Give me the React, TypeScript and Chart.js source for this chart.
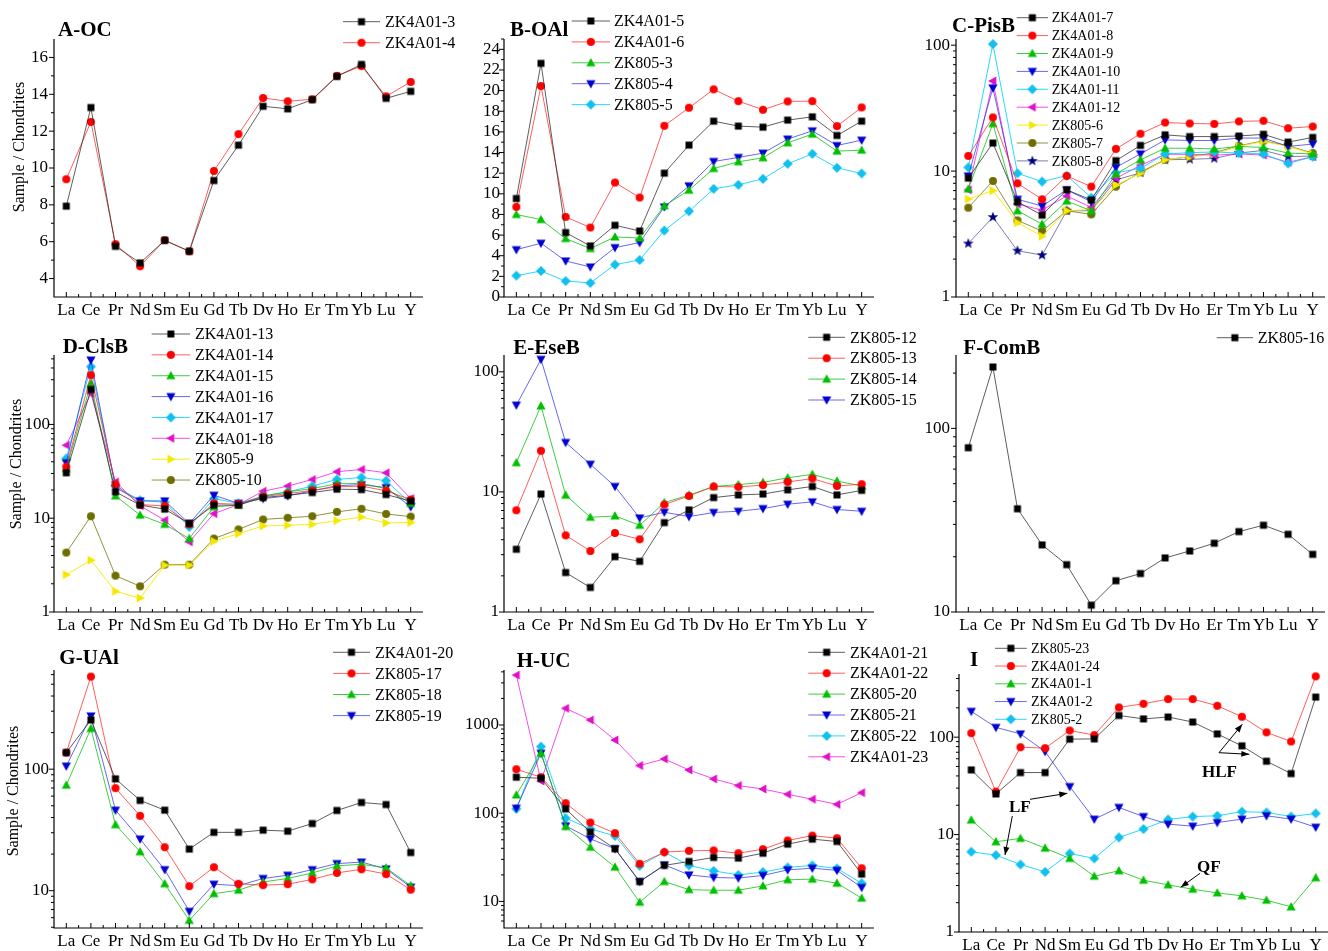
import React, { useEffect, useRef } from 'react';
import { Chart, registerables } from 'chart.js';

Chart.register(...registerables);

const FONT = '"Liberation Serif", "Times New Roman", serif';
const W = 1328;
const H = 951;

const elements = ['La', 'Ce', 'Pr', 'Nd', 'Sm', 'Eu', 'Gd', 'Tb', 'Dy', 'Ho', 'Er', 'Tm', 'Yb', 'Lu', 'Y'];

// ---- A-OC
const zk4a01_3 = [7.93, 13.28, 5.75, 4.85, 6.07, 5.48, 9.32, 11.24, 13.35, 13.21, 13.71, 14.97, 15.62, 13.78, 14.16];
const zk4a01_4 = [9.39, 12.5, 5.87, 4.67, 6.09, 5.48, 9.84, 11.84, 13.8, 13.62, 13.73, 15.0, 15.53, 13.89, 14.67];
// ---- B-OAl
const zk4a01_5 = [9.54, 22.64, 6.24, 4.95, 6.95, 6.4, 12.0, 14.72, 17.04, 16.56, 16.46, 17.14, 17.46, 15.65, 17.04];
const zk4a01_6 = [8.73, 20.44, 7.76, 6.73, 11.09, 9.64, 16.59, 18.34, 20.12, 18.98, 18.14, 18.95, 18.98, 16.56, 18.37];
const zk805_3 = [7.99, 7.5, 5.66, 4.69, 5.82, 5.72, 8.83, 10.35, 12.45, 13.1, 13.49, 14.94, 15.78, 14.13, 14.23];
const zk805_4 = [4.59, 5.21, 3.49, 2.91, 4.79, 5.27, 8.73, 10.77, 13.13, 13.52, 13.94, 15.3, 16.1, 14.68, 15.2];
const zk805_5 = [2.07, 2.52, 1.55, 1.36, 3.14, 3.59, 6.44, 8.31, 10.48, 10.87, 11.45, 12.9, 13.87, 12.52, 11.97];
// ---- C-PisB
const zk4a01_7 = [8.8, 16.7, 5.7, 4.47, 7.1, 5.9, 12.1, 16.0, 19.4, 18.8, 18.8, 19.0, 19.6, 17.0, 18.5];
const zk4a01_8 = [13.2, 26.7, 8.0, 5.97, 9.15, 7.52, 15.0, 19.8, 24.3, 23.9, 23.7, 24.8, 25.1, 21.9, 22.6];
const zk4a01_9 = [7.2, 23.8, 4.84, 3.79, 5.78, 4.84, 9.5, 12.3, 15.2, 15.2, 15.0, 15.7, 15.4, 13.9, 13.7];
const zk4a01_10 = [9.15, 45.7, 5.97, 5.28, 7.1, 5.7, 10.7, 13.7, 17.7, 17.5, 17.5, 18.3, 18.3, 15.7, 16.4];
const zk4a01_11 = [10.7, 102, 9.6, 8.25, 9.2, 6.15, 9.7, 10.5, 13.7, 14.0, 14.2, 13.9, 13.7, 11.5, 13.0];
const zk4a01_12 = [7.1, 52, 5.47, 4.9, 6.34, 5.15, 8.77, 11.1, 13.6, 13.6, 13.4, 13.7, 13.4, 11.75, 13.0];
const zk805_6 = [6.0, 7.0, 3.89, 3.04, 4.84, 4.96, 7.76, 9.6, 12.3, 13.0, 13.7, 15.7, 17.2, 15.7, 13.7];
const zk805_7 = [5.12, 8.35, 4.06, 3.34, 4.84, 4.53, 7.52, 9.8, 12.3, 13.0, 14.0, 15.9, 17.4, 15.9, 13.9];
const zk805_8 = [2.66, 4.31, 2.33, 2.15, 4.84, 4.84, 8.5, 9.7, 12.3, 12.4, 12.6, 13.9, 14.6, 13.0, 13.2];
// ---- D-ClsB
const zk4a01_13 = [30.5, 236, 19.1, 13.8, 12.5, 8.8, 13.8, 13.8, 16.6, 17.6, 18.8, 20.4, 20.2, 17.9, 15.2];
const zk4a01_14 = [35.3, 336, 22.9, 14.0, 13.5, 8.6, 14.4, 14.1, 17.0, 18.3, 19.8, 21.6, 22.0, 19.6, 15.8];
const zk4a01_15 = [33.9, 274, 17.3, 10.8, 8.6, 6.07, 13.2, 13.8, 17.3, 19.1, 20.7, 23.3, 23.5, 20.7, 14.4];
const zk4a01_16 = [39, 486, 21.1, 15.3, 15.3, 8.8, 17.6, 14.4, 16.2, 17.3, 19.6, 22.2, 22.8, 21.2, 13.2];
const zk4a01_17 = [43.4, 413, 21.9, 15.5, 14.8, 8.07, 16.2, 14.4, 17.2, 19.1, 22.0, 25.9, 27.2, 25.1, 14.4];
const zk4a01_18 = [60, 214, 24.4, 13.6, 9.5, 5.6, 11.2, 14.0, 19.4, 22.0, 25.9, 31.3, 33.1, 30.5, 16.2];
const zk805_9 = [2.5, 3.57, 1.66, 1.41, 3.15, 3.15, 5.68, 6.85, 8.28, 8.4, 8.6, 9.44, 10.3, 8.9, 9.0];
const zk805_10 = [4.3, 10.5, 2.44, 1.88, 3.2, 3.2, 6.07, 7.6, 9.7, 10.1, 10.5, 11.7, 12.6, 11.1, 10.4];
// ---- E-EseB
const zk805_12 = [3.33, 9.6, 2.13, 1.6, 2.89, 2.64, 5.55, 7.08, 8.97, 9.44, 9.6, 10.4, 11.1, 9.44, 10.3];
const zk805_13 = [7.03, 22, 4.35, 3.22, 4.55, 4.03, 7.84, 9.26, 11.1, 11.0, 11.4, 12.1, 12.9, 11.2, 11.6];
const zk805_14 = [17.5, 52, 9.4, 6.15, 6.3, 5.27, 8.15, 9.4, 11.1, 11.5, 12.0, 13.1, 14.0, 12.3, 11.2];
const zk805_15 = [52.8, 127, 25.8, 17, 11.1, 6.07, 6.77, 6.23, 6.74, 6.9, 7.26, 7.9, 8.26, 7.13, 6.9];
// ---- F-ComB
const zk805_16 = [78.5, 216, 36.5, 23.2, 18.1, 10.9, 14.8, 16.2, 19.7, 21.5, 23.7, 27.4, 29.7, 26.5, 20.6];
// ---- G-UAl
const zk4a01_20 = [137, 254, 83.3, 55.3, 46, 22, 30.2, 30.2, 31.5, 30.9, 35.7, 45.7, 53.2, 51.2, 20.6];
const zk805_17 = [137, 578, 69.8, 41.3, 22.8, 10.9, 15.6, 11.4, 11.1, 11.3, 12.4, 14.0, 15.0, 13.7, 10.2];
const zk805_18 = [73.9, 216, 34.9, 20.9, 11.4, 5.7, 9.45, 10.1, 11.8, 12.6, 14.0, 16.0, 16.5, 15.4, 11.0];
const zk805_19 = [106, 274, 46, 26.6, 14.9, 6.76, 11.3, 11.0, 12.6, 13.4, 14.9, 16.7, 17.2, 15.1, 10.7];
// ---- H-UC
const zk4a01_21 = [256, 249, 112, 61, 39.5, 16.8, 25.6, 28.4, 31.5, 31, 35.2, 44.6, 50.8, 47.8, 20.4];
const zk4a01_22 = [315, 256, 130, 78.4, 59.4, 26.7, 36.2, 37.5, 37.8, 35.2, 39.1, 49.1, 55.8, 52.1, 23.8];
const zk805_20 = [161, 478, 70.6, 41.2, 24.5, 9.8, 16.8, 13.6, 13.4, 13.4, 15.0, 17.6, 17.9, 16.1, 10.9];
const zk805_21 = [114, 478, 72, 51.2, 39.5, 16.8, 26, 20, 18.7, 18.4, 19.7, 22.8, 23.8, 22.5, 14.4];
const zk805_22 = [112, 569, 87.8, 66.5, 55.4, 25.3, 36.2, 25.6, 22.2, 20, 21.5, 24.3, 25.6, 23.6, 16.1];
const zk4a01_23 = [3680, 232, 1545, 1140, 676, 347, 412, 309, 245, 206, 188, 164, 144, 126, 171];
// ---- I
const zk805_23 = [46.1, 26.1, 43.3, 43.3, 95.4, 96, 167, 154, 161, 143, 108, 81.4, 56.6, 42.3, 258];
const zk4a01_24 = [110, 27.6, 78.9, 77.1, 117, 105, 202, 220, 246, 246, 210, 162, 112, 90.2, 421];
const zk4a01_1 = [14.1, 8.44, 9.14, 7.26, 5.69, 3.74, 4.25, 3.4, 3.05, 2.75, 2.52, 2.35, 2.12, 1.81, 3.6];
const zk4a01_2 = [184, 126, 108, 71.2, 31.1, 14.4, 19.0, 15.3, 12.8, 12.2, 13.3, 14.4, 15.6, 14.4, 11.9];
const zk805_2 = [6.66, 6.15, 4.93, 4.14, 6.4, 5.69, 9.35, 11.4, 14.3, 15.3, 15.6, 17.2, 16.9, 15.3, 16.5];

// tick label values
const linTicksA = [4, 6, 8, 10, 12, 14, 16];
const linMinorA = [5, 7, 9, 11, 13, 15];
const linTicksB = [0, 2, 4, 6, 8, 10, 12, 14, 16, 18, 20, 22, 24];
const linMinorB = [1, 3, 5, 7, 9, 11, 13, 15, 17, 19, 21, 23, 25];
const logTicks1 = [1, 10, 100];
const logTicks10 = [10, 100];
const logTicksH = [10, 100, 1000];

const STYLES = [
  { shape: 'square', color: '#000000', line: 'rgba(40,40,40,0.75)' },
  { shape: 'circle', color: '#ff0000', line: 'rgba(255,40,40,0.75)' },
  { shape: 'up', color: '#00c000', line: 'rgba(0,190,0,0.75)' },
  { shape: 'down', color: '#0000d0', line: 'rgba(40,40,230,0.7)' },
  { shape: 'diamond', color: '#12c0ee', line: 'rgba(0,210,255,0.85)' },
  { shape: 'left', color: '#e010c8', line: 'rgba(240,0,230,0.7)' },
  { shape: 'right', color: '#f4e800', line: 'rgba(245,235,0,0.9)' },
  { shape: 'circle', color: '#6e6e00', line: 'rgba(110,110,0,0.75)' },
  { shape: 'star', color: '#000080', line: 'rgba(70,70,140,0.7)' },
];

function logMinor(min: number, max: number): number[] {
  const out: number[] = [];
  for (let k = -1; k <= 4; k++) {
    for (let m = 2; m <= 9; m++) {
      const v = m * Math.pow(10, k);
      if (v > min && v < max) out.push(v);
    }
  }
  return out;
}

type Series = { name: string; data: number[]; style: number };
type Panel = {
  title: string; tx: number; ty: number;
  area: { l: number; r: number; t: number; b: number };
  log: boolean; min: number; max: number; major: number[]; minor: number[]; tickPad: number;
  series: Series[];
  legend: { x1: number; x2: number; tx: number; y0: number; dy: number; size: number };
  ylabel?: { x: number; y: number };
  notes?: boolean;
};

const PANELS: Panel[] = [
  {
    title: 'A-OC', tx: 58, ty: 36, area: { l: 54, r: 423, t: 39, b: 297 },
    log: false, min: 3, max: 17, major: linTicksA, minor: linMinorA, tickPad: 6,
    series: [{ name: 'ZK4A01-3', data: zk4a01_3, style: 0 }, { name: 'ZK4A01-4', data: zk4a01_4, style: 1 }],
    legend: { x1: 343, x2: 380, tx: 385, y0: 21.7, dy: 21, size: 16 },
    ylabel: { x: 20, y: 147 },
  },
  {
    title: 'B-OAl', tx: 510, ty: 35.7, area: { l: 504, r: 874, t: 39, b: 297 },
    log: false, min: 0, max: 25, major: linTicksB, minor: linMinorB, tickPad: 4,
    series: [
      { name: 'ZK4A01-5', data: zk4a01_5, style: 0 }, { name: 'ZK4A01-6', data: zk4a01_6, style: 1 },
      { name: 'ZK805-3', data: zk805_3, style: 2 }, { name: 'ZK805-4', data: zk805_4, style: 3 },
      { name: 'ZK805-5', data: zk805_5, style: 4 },
    ],
    legend: { x1: 571.7, x2: 610, tx: 614, y0: 21, dy: 20.9, size: 16 },
  },
  {
    title: 'C-PisB', tx: 952, ty: 32.3, area: { l: 956, r: 1325, t: 39, b: 297 },
    log: true, min: 1, max: 112, major: logTicks1, minor: logMinor(1, 112), tickPad: 6,
    series: [
      { name: 'ZK4A01-7', data: zk4a01_7, style: 0 }, { name: 'ZK4A01-8', data: zk4a01_8, style: 1 },
      { name: 'ZK4A01-9', data: zk4a01_9, style: 2 }, { name: 'ZK4A01-10', data: zk4a01_10, style: 3 },
      { name: 'ZK4A01-11', data: zk4a01_11, style: 4 }, { name: 'ZK4A01-12', data: zk4a01_12, style: 5 },
      { name: 'ZK805-6', data: zk805_6, style: 6 }, { name: 'ZK805-7', data: zk805_7, style: 7 },
      { name: 'ZK805-8', data: zk805_8, style: 8 },
    ],
    legend: { x1: 1016.7, x2: 1048, tx: 1051.7, y0: 17.7, dy: 17.9, size: 14 },
  },
  {
    title: 'D-ClsB', tx: 62.7, ty: 353.3, area: { l: 54, r: 423, t: 355, b: 612 },
    log: true, min: 1, max: 550, major: logTicks1, minor: logMinor(1, 550), tickPad: 4,
    series: [
      { name: 'ZK4A01-13', data: zk4a01_13, style: 0 }, { name: 'ZK4A01-14', data: zk4a01_14, style: 1 },
      { name: 'ZK4A01-15', data: zk4a01_15, style: 2 }, { name: 'ZK4A01-16', data: zk4a01_16, style: 3 },
      { name: 'ZK4A01-17', data: zk4a01_17, style: 4 }, { name: 'ZK4A01-18', data: zk4a01_18, style: 5 },
      { name: 'ZK805-9', data: zk805_9, style: 6 }, { name: 'ZK805-10', data: zk805_10, style: 7 },
    ],
    legend: { x1: 151.7, x2: 190, tx: 195, y0: 334, dy: 20.86, size: 16 },
    ylabel: { x: 17, y: 464 },
  },
  {
    title: 'E-EseB', tx: 513.3, ty: 354, area: { l: 504, r: 874, t: 355, b: 612 },
    log: true, min: 1, max: 138, major: logTicks1, minor: logMinor(1, 138), tickPad: 5,
    series: [
      { name: 'ZK805-12', data: zk805_12, style: 0 }, { name: 'ZK805-13', data: zk805_13, style: 1 },
      { name: 'ZK805-14', data: zk805_14, style: 2 }, { name: 'ZK805-15', data: zk805_15, style: 3 },
    ],
    legend: { x1: 808.3, x2: 845, tx: 850, y0: 337.3, dy: 20.9, size: 16 },
  },
  {
    title: 'F-ComB', tx: 963.3, ty: 354, area: { l: 956, r: 1325, t: 355, b: 612 },
    log: true, min: 10, max: 251, major: logTicks10, minor: logMinor(10, 251), tickPad: 6,
    series: [{ name: 'ZK805-16', data: zk805_16, style: 0 }],
    legend: { x1: 1216.7, x2: 1253, tx: 1257.7, y0: 337.7, dy: 21, size: 16 },
  },
  {
    title: 'G-UAl', tx: 59.3, ty: 664.3, area: { l: 54, r: 423, t: 670, b: 928 },
    log: true, min: 4.93, max: 655, major: logTicks10, minor: logMinor(4.93, 655), tickPad: 5,
    series: [
      { name: 'ZK4A01-20', data: zk4a01_20, style: 0 }, { name: 'ZK805-17', data: zk805_17, style: 1 },
      { name: 'ZK805-18', data: zk805_18, style: 2 }, { name: 'ZK805-19', data: zk805_19, style: 3 },
    ],
    legend: { x1: 333, x2: 370, tx: 375, y0: 652.3, dy: 21.1, size: 16 },
    ylabel: { x: 14, y: 791 },
  },
  {
    title: 'H-UC', tx: 516.7, ty: 666.7, area: { l: 504, r: 874, t: 670, b: 928 },
    log: true, min: 5, max: 4200, major: logTicksH, minor: logMinor(5, 4200), tickPad: 5,
    series: [
      { name: 'ZK4A01-21', data: zk4a01_21, style: 0 }, { name: 'ZK4A01-22', data: zk4a01_22, style: 1 },
      { name: 'ZK805-20', data: zk805_20, style: 2 }, { name: 'ZK805-21', data: zk805_21, style: 3 },
      { name: 'ZK805-22', data: zk805_22, style: 4 }, { name: 'ZK4A01-23', data: zk4a01_23, style: 5 },
    ],
    legend: { x1: 808.3, x2: 845, tx: 850, y0: 652.3, dy: 20.9, size: 16 },
  },
  {
    title: 'I', tx: 970, ty: 665.7, area: { l: 959, r: 1328, t: 674, b: 932 },
    log: true, min: 1, max: 445, major: logTicks1, minor: logMinor(1, 445), tickPad: 5,
    series: [
      { name: 'ZK805-23', data: zk805_23, style: 0 }, { name: 'ZK4A01-24', data: zk4a01_24, style: 1 },
      { name: 'ZK4A01-1', data: zk4a01_1, style: 2 }, { name: 'ZK4A01-2', data: zk4a01_2, style: 3 },
      { name: 'ZK805-2', data: zk805_2, style: 4 },
    ],
    legend: { x1: 995, x2: 1026.7, tx: 1031, y0: 648.3, dy: 17.75, size: 14 },
    notes: true,
  },
];

function makeMarker(shape: string, color: string): HTMLCanvasElement {
  const c = document.createElement('canvas');
  c.width = 14;
  c.height = 14;
  const g = c.getContext('2d') as CanvasRenderingContext2D;
  const m = 7;
  g.fillStyle = color;
  g.beginPath();
  switch (shape) {
    case 'square': g.rect(m - 3.5, m - 3.5, 7, 7); break;
    case 'circle': g.arc(m, m, 4, 0, Math.PI * 2); break;
    case 'up': g.moveTo(m, m - 4.8); g.lineTo(m + 4.6, m + 3.4); g.lineTo(m - 4.6, m + 3.4); break;
    case 'down': g.moveTo(m, m + 4.8); g.lineTo(m + 4.6, m - 3.4); g.lineTo(m - 4.6, m - 3.4); break;
    case 'diamond': g.moveTo(m, m - 5); g.lineTo(m + 5, m); g.lineTo(m, m + 5); g.lineTo(m - 5, m); break;
    case 'left': g.moveTo(m - 4.8, m); g.lineTo(m + 3.4, m - 4.6); g.lineTo(m + 3.4, m + 4.6); break;
    case 'right': g.moveTo(m + 4.8, m); g.lineTo(m - 3.4, m - 4.6); g.lineTo(m - 3.4, m + 4.6); break;
    case 'star':
      for (let i = 0; i < 10; i++) {
        const r = i % 2 === 0 ? 5.6 : 2.3;
        const a = -Math.PI / 2 + (i * Math.PI) / 5;
        const px = m + r * Math.cos(a);
        const py = m + r * Math.sin(a);
        if (i === 0) g.moveTo(px, py); else g.lineTo(px, py);
      }
      break;
  }
  g.closePath();
  g.fill();
  return c;
}

function arrow(ctx: CanvasRenderingContext2D, x1: number, y1: number, x2: number, y2: number) {
  ctx.beginPath();
  ctx.moveTo(x1, y1);
  ctx.lineTo(x2, y2);
  ctx.stroke();
  const a = Math.atan2(y2 - y1, x2 - x1);
  const len = 8;
  const hw = 3;
  ctx.beginPath();
  ctx.moveTo(x2, y2);
  ctx.lineTo(x2 - len * Math.cos(a) + hw * Math.sin(a), y2 - len * Math.sin(a) - hw * Math.cos(a));
  ctx.lineTo(x2 - len * Math.cos(a) - hw * Math.sin(a), y2 - len * Math.sin(a) + hw * Math.cos(a));
  ctx.closePath();
  ctx.fill();
}

function deco(p: Panel, markers: HTMLCanvasElement[]) {
  return {
    id: 'deco',
    afterDraw(chart: any) {
      const ctx: CanvasRenderingContext2D = chart.ctx;
      const { left, right, top, bottom } = chart.chartArea;
      const xs = chart.scales.x;
      const ys = chart.scales.y;
      ctx.save();
      ctx.strokeStyle = '#000';
      ctx.fillStyle = '#000';
      ctx.lineWidth = 1.2;
      // axis lines
      ctx.beginPath();
      ctx.moveTo(left, top);
      ctx.lineTo(left, bottom);
      ctx.lineTo(right, bottom);
      ctx.stroke();
      ctx.lineWidth = 1;
      // y ticks (outward)
      ctx.beginPath();
      p.major.forEach((v) => {
        const py = ys.getPixelForValue(v);
        ctx.moveTo(left - 5, py);
        ctx.lineTo(left, py);
      });
      p.minor.forEach((v) => {
        const py = ys.getPixelForValue(v);
        ctx.moveTo(left - 3, py);
        ctx.lineTo(left, py);
      });
      // x ticks (inward)
      for (let i = 0; i < elements.length; i++) {
        const px = xs.getPixelForValue(i);
        ctx.moveTo(px, bottom);
        ctx.lineTo(px, bottom - 5);
        if (i < elements.length - 1) {
          const pm = (px + xs.getPixelForValue(i + 1)) / 2;
          ctx.moveTo(pm, bottom);
          ctx.lineTo(pm, bottom - 3);
        }
      }
      ctx.stroke();
      // title
      ctx.font = `bold 21px ${FONT}`;
      ctx.textAlign = 'left';
      ctx.textBaseline = 'alphabetic';
      ctx.fillText(p.title, p.tx, p.ty);
      // y label
      if (p.ylabel) {
        ctx.save();
        ctx.translate(p.ylabel.x, p.ylabel.y);
        ctx.rotate(-Math.PI / 2);
        ctx.font = `16px ${FONT}`;
        ctx.textAlign = 'center';
        ctx.textBaseline = 'middle';
        ctx.fillText('Sample / Chondrites', 0, 0);
        ctx.restore();
      }
      // legend
      const lg = p.legend;
      p.series.forEach((s, i) => {
        const y = lg.y0 + i * lg.dy;
        const st = STYLES[s.style];
        ctx.strokeStyle = st.line;
        ctx.lineWidth = 1;
        ctx.beginPath();
        ctx.moveTo(lg.x1, y);
        ctx.lineTo(lg.x2, y);
        ctx.stroke();
        const mk = markers[s.style];
        ctx.drawImage(mk, (lg.x1 + lg.x2) / 2 - mk.width / 2, y - mk.height / 2);
        ctx.fillStyle = '#000';
        ctx.font = `${lg.size}px ${FONT}`;
        ctx.textAlign = 'left';
        ctx.textBaseline = 'middle';
        ctx.fillText(s.name, lg.tx, y + 1);
      });
      // annotations
      if (p.notes) {
        ctx.fillStyle = '#000';
        ctx.strokeStyle = '#000';
        ctx.lineWidth = 1;
        ctx.font = `bold 17px ${FONT}`;
        ctx.textAlign = 'left';
        ctx.textBaseline = 'alphabetic';
        ctx.fillText('HLF', 1202, 777);
        ctx.fillText('LF', 1009, 812);
        ctx.fillText('QF', 1197, 872);
        arrow(ctx, 1219, 752.7, 1242.3, 724.3);
        arrow(ctx, 1219, 752.7, 1249.3, 754.3);
        arrow(ctx, 1030, 799.3, 1067.3, 793.3);
        arrow(ctx, 1012.3, 816, 1005, 855);
        arrow(ctx, 1200, 873.3, 1180.7, 887.3);
      }
      ctx.restore();
    },
  };
}

function buildConfig(p: Panel, markers: HTMLCanvasElement[]): any {
  const YW = 40;
  const XH = 18;
  const datasets = p.series.map((s) => ({
    label: s.name,
    data: s.data,
    borderColor: STYLES[s.style].line,
    backgroundColor: STYLES[s.style].color,
    borderWidth: 1,
    pointStyle: markers[s.style],
    pointRadius: 4,
    tension: 0,
    fill: false,
    clip: false,
  }));
  return {
    type: 'line',
    data: { labels: elements, datasets },
    options: {
      responsive: false,
      maintainAspectRatio: false,
      animation: false,
      devicePixelRatio: 1,
      events: [],
      layout: {
        autoPadding: false,
        padding: { left: p.area.l - YW, right: W - p.area.r, top: p.area.t, bottom: H - p.area.b - XH },
      },
      plugins: { legend: { display: false }, tooltip: { enabled: false }, title: { display: false } },
      scales: {
        x: {
          type: 'category',
          offset: true,
          grid: { display: false, drawTicks: false },
          border: { display: false },
          ticks: {
            autoSkip: false, maxRotation: 0, minRotation: 0, padding: 3, color: '#000',
            font: { family: FONT, size: 17 },
          },
          afterFit: (s: any) => { s.height = XH; },
        },
        y: {
          type: p.log ? 'logarithmic' : 'linear',
          min: p.min,
          max: p.max,
          bounds: 'data',
          grid: { display: false, drawTicks: false },
          border: { display: false },
          ticks: {
            autoSkip: false,
            padding: p.tickPad, color: '#000', font: { family: FONT, size: 17 },
            callback: (v: any) => String(v),
          },
          afterFit: (s: any) => { s.width = YW; },
          afterBuildTicks: (s: any) => { s.ticks = p.major.map((v) => ({ value: v })); },
        },
      },
    },
    plugins: [deco(p, markers)],
  };
}

export default function App() {
  const refs = useRef<(HTMLCanvasElement | null)[]>([]);
  useEffect(() => {
    const markers = STYLES.map((s) => makeMarker(s.shape, s.color));
    const charts = PANELS.map((p, i) => new Chart(refs.current[i] as HTMLCanvasElement, buildConfig(p, markers)));
    return () => charts.forEach((c) => c.destroy());
  }, []);
  return (
    <div style={{ position: 'absolute', left: 0, top: 0, width: W, height: H, background: '#fff', overflow: 'hidden' }}>
      {PANELS.map((p, i) => (
        <canvas
          key={p.title}
          ref={(el) => { refs.current[i] = el; }}
          width={W}
          height={H}
          style={{ position: 'absolute', left: 0, top: 0, width: W, height: H }}
        />
      ))}
    </div>
  );
}
